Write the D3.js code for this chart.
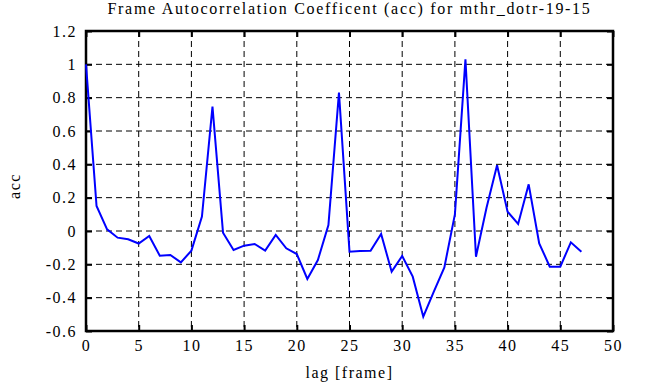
<!DOCTYPE html>
<html>
<head>
<meta charset="utf-8">
<script src="https://cdn.jsdelivr.net/npm/d3@7"></script>
<style>
  body { margin: 0; background: #fff; }
  svg text { font-family: "Liberation Serif", "Times New Roman", serif; font-size: 16px; letter-spacing: 1.5px; fill: #000; }
</style>
</head>
<body>
<div id="chart"></div>
<script>
// autocorrelation values, lag 0..47
let lags = d3.range(48);
let acc = [1.0, 0.15, 0.01, -0.04, -0.05, -0.075, -0.03, -0.148, -0.144, -0.188,
  -0.118, 0.086, 0.746, -0.01, -0.114, -0.088, -0.078, -0.118, -0.024, -0.104,
  -0.138, -0.288, -0.174, 0.036, 0.83, -0.124, -0.12, -0.118, -0.018, -0.244,
  -0.15, -0.274, -0.514, -0.364, -0.218, 0.1, 1.03, -0.154, 0.14, 0.395,
  0.116, 0.042, 0.28, -0.074, -0.214, -0.214, -0.068, -0.124];
let xTicks = d3.range(0, 51, 5);
let yTicks = [-0.6, -0.4, -0.2, 0, 0.2, 0.4, 0.6, 0.8, 1, 1.2];

let width = 651, height = 387;
let margin = {top: 31, right: 38, bottom: 56, left: 86};

let svg = d3.select("#chart").append("svg")
  .attr("width", width)
  .attr("height", height);

let x = d3.scaleLinear().domain([0, 50]).range([margin.left, width - margin.right]);
let y = d3.scaleLinear().domain([-0.6, 1.2]).range([height - margin.bottom, margin.top]);

// grid
svg.append("g")
  .selectAll("line")
  .data(xTicks.slice(1, -1))
  .enter().append("line")
  .attr("x1", d => x(d)).attr("x2", d => x(d))
  .attr("y1", y(1.2)).attr("y2", y(-0.6))
  .attr("stroke", "#000").attr("stroke-width", 1)
  .attr("stroke-dasharray", "6,4");

svg.append("g")
  .selectAll("line")
  .data(yTicks.slice(1, -1))
  .enter().append("line")
  .attr("y1", d => y(d)).attr("y2", d => y(d))
  .attr("x1", x(0)).attr("x2", x(50))
  .attr("stroke", "#000").attr("stroke-width", 1)
  .attr("stroke-dasharray", "6,4");

// inward ticks on all four sides
let tickLen = 6;
let bottomAxis = svg.append("g")
  .attr("transform", `translate(0,${y(-0.6)})`)
  .call(d3.axisBottom(x).tickValues(xTicks).tickSizeInner(-tickLen).tickSizeOuter(0).tickPadding(9));
let topAxis = svg.append("g")
  .attr("transform", `translate(0,${y(1.2)})`)
  .call(d3.axisTop(x).tickValues(xTicks).tickSizeInner(-tickLen).tickSizeOuter(0).tickFormat(""));
let leftAxis = svg.append("g")
  .attr("transform", `translate(${x(0)},0)`)
  .call(d3.axisLeft(y).tickValues(yTicks).tickSizeInner(-tickLen).tickSizeOuter(0).tickPadding(9)
    .tickFormat(d => String(+d.toFixed(1))));
let rightAxis = svg.append("g")
  .attr("transform", `translate(${x(50)},0)`)
  .call(d3.axisRight(y).tickValues(yTicks).tickSizeInner(-tickLen).tickSizeOuter(0).tickFormat(""));

[bottomAxis, topAxis, leftAxis, rightAxis].forEach(function (g) {
  g.attr("font-family", null).attr("font-size", null);
  g.select(".domain").remove();
  g.selectAll(".tick line").attr("stroke", "#000").attr("stroke-width", 2);
});

// frame
svg.append("rect")
  .attr("x", x(0)).attr("y", y(1.2))
  .attr("width", x(50) - x(0)).attr("height", y(-0.6) - y(1.2))
  .attr("fill", "none").attr("stroke", "#000").attr("stroke-width", 2.5);

// the series
let line = d3.line()
  .x((d, i) => x(lags[i]))
  .y(d => y(d));

svg.append("path")
  .datum(acc)
  .attr("d", line)
  .attr("fill", "none")
  .attr("stroke", "#0000ff")
  .attr("stroke-width", 2);

// labels
svg.append("text")
  .attr("x", (x(0) + x(50)) / 2)
  .attr("y", 14)
  .attr("text-anchor", "middle")
  .style("letter-spacing", "1.7px")
  .text("Frame Autocorrelation Coefficent (acc) for mthr_dotr-19-15");

svg.append("text")
  .attr("x", (x(0) + x(50)) / 2)
  .attr("y", 378)
  .attr("text-anchor", "middle")
  .text("lag [frame]");

svg.append("text")
  .attr("transform", `translate(20,186) rotate(-90)`)
  .attr("text-anchor", "middle")
  .text("acc");
</script>
</body>
</html>
